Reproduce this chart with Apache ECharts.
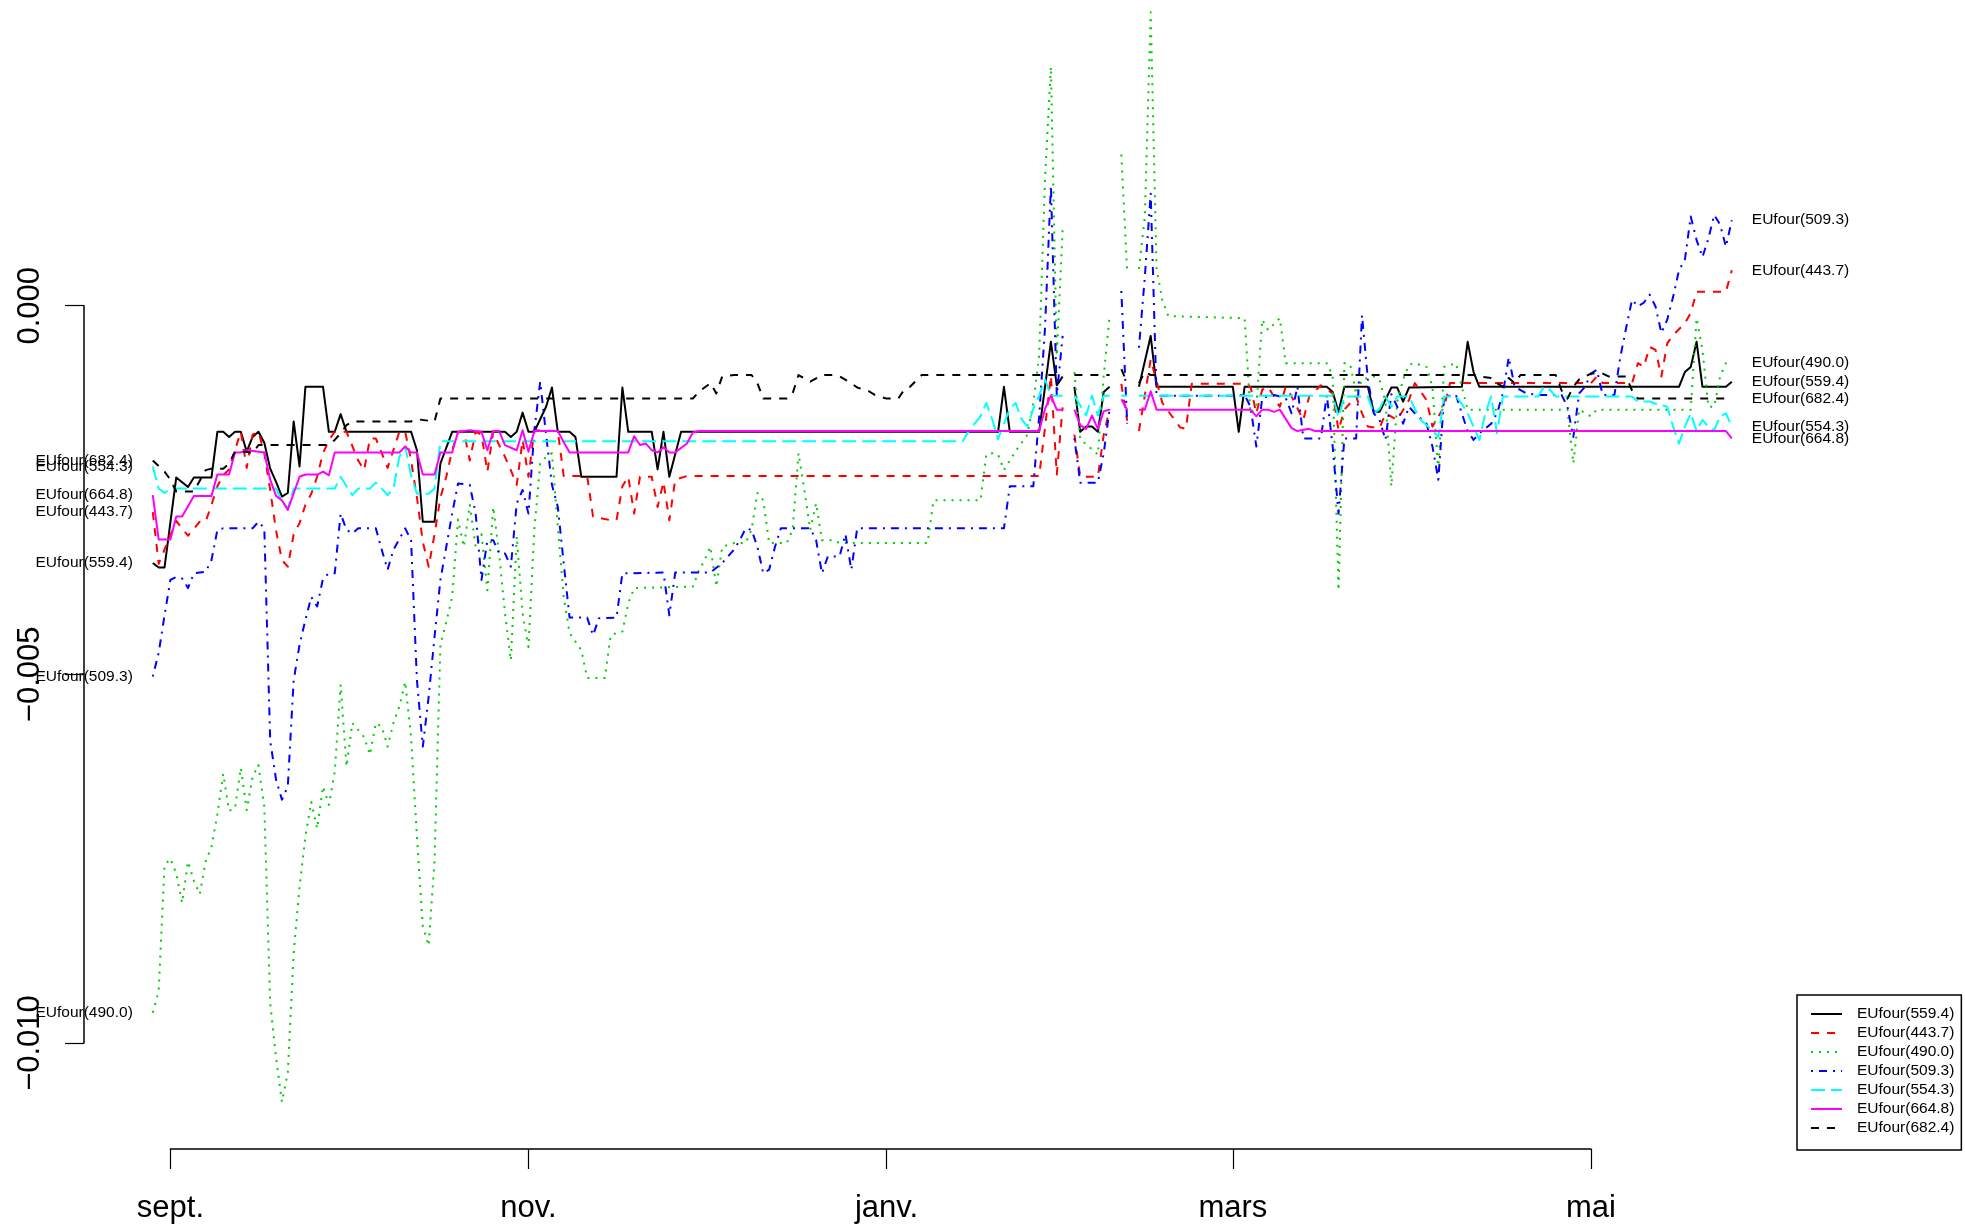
<!DOCTYPE html>
<html>
<head>
<meta charset="utf-8">
<script src="https://cdn.jsdelivr.net/npm/echarts@6/dist/echarts.min.js"></script>
<style>
  html, body { margin: 0; padding: 0; background: #ffffff; }
  #chart { width: 1965px; height: 1230px; }
</style>
</head>
<body>
<div id="chart"></div>
<script>
// Daily series, x = days counted from 1 September, y in thousandths.
// null marks a day without a value (the line is broken there).
const eu559 = [[-3,-3.49],[-2,-3.55],[-1,-3.55],[1,-2.33],[3,-2.46],[4,-2.33],[7,-2.33],[8,-1.71],[9,-1.71],[10,-1.78],[11,-1.71],[12,-1.71],[13,-1.98],[14,-1.78],[15,-1.71],[16,-1.86],[17,-2.21],[18,-2.39],[19,-2.59],[20,-2.54],[21,-1.57],[22,-2.18],[23,-1.10],[26,-1.10],[27,-1.71],[28,-1.71],[29,-1.47],[30,-1.71],[41,-1.71],[42,-1.96],[43,-2.93],[45,-2.93],[46,-2.14],[48,-1.71],[57,-1.71],[58,-1.78],[59,-1.71],[60,-1.45],[61,-1.71],[62,-1.71],[64,-1.37],[65,-1.11],[66,-1.71],[68,-1.71],[69,-1.78],[70,-2.32],[76,-2.32],[77,-1.11],[78,-1.71],[82,-1.71],[83,-2.22],[84,-1.71],[85,-2.32],[87,-1.71],[141,-1.71],[142,-1.10],[143,-1.71],[148,-1.71],[150,-0.49],[151,-1.08],[152,-0.96],[153,null],[154,-1.10],[155,-1.71],[156,-1.64],[157,-1.64],[158,-1.71],[159,-1.17],[160,-1.10],[161,null],[165,-1.10],[167,-0.41],[168,-1.10],[181,-1.10],[182,-1.71],[183,-1.10],[197,-1.10],[198,-1.17],[199,-1.44],[200,-1.10],[204,-1.10],[205,-1.44],[206,-1.44],[208,-1.11],[209,-1.11],[210,-1.30],[211,-1.11],[220,-1.10],[221,-0.49],[222,-0.90],[223,-1.10],[257,-1.10],[258,-0.90],[259,-0.83],[260,-0.49],[261,-1.10],[265,-1.10],[266,-1.03]];

const eu443 = [[-3,-2.80],[-2,-3.50],[1,-2.92],[3,-3.12],[5,-2.93],[6,-2.93],[7,-2.70],[8,-2.45],[9,-2.30],[10,-2.22],[11,-1.96],[12,-1.71],[13,-2.20],[14,-1.75],[15,-1.71],[16,-2.00],[17,-2.50],[18,-3.05],[19,-3.45],[20,-3.54],[21,-3.10],[22,-2.95],[23,-2.70],[24,-2.55],[25,-2.32],[26,-2.00],[27,-1.82],[28,-1.71],[30,-1.71],[32,-2.10],[33,-2.23],[34,-1.80],[35,-1.80],[37,-2.20],[39,-1.71],[40,-1.71],[41,-2.10],[42,-2.60],[43,-3.20],[44,-3.54],[45,-3.10],[46,-2.60],[47,-2.32],[48,-1.96],[49,-1.71],[50,-1.71],[51,-2.10],[52,-1.71],[53,-1.75],[54,-2.25],[55,-1.71],[56,-1.89],[57,-2.05],[58,-2.23],[59,-2.43],[60,-1.82],[61,-2.32],[62,-1.69],[66,-1.70],[67,-2.31],[71,-2.31],[72,-2.86],[75,-2.91],[76,-2.91],[77,-2.45],[78,-2.32],[79,-2.82],[80,-2.32],[82,-2.32],[83,-2.73],[84,-2.39],[85,-2.91],[86,-2.36],[88,-2.31],[148,-2.31],[149,-1.65],[150,-0.95],[151,-2.29],[152,-1.38],[153,null],[154,-1.75],[155,-2.32],[158,-2.32],[159,-1.75],[160,-1.40],[161,null],[162,-1.06],[163,-1.56],[164,null],[165,-1.70],[167,-0.73],[169,-1.32],[172,-1.65],[173,-1.67],[174,-1.06],[183,-1.06],[184,-1.10],[185,-1.46],[186,-1.14],[187,-1.10],[189,-1.37],[190,-1.10],[191,-1.23],[193,-1.55],[194,-1.23],[196,-1.08],[198,-1.19],[199,-1.69],[200,-1.41],[202,-1.23],[203,-1.46],[204,-1.64],[206,-1.66],[207,-1.46],[209,-1.55],[211,-1.28],[212,-1.05],[214,-1.28],[215,-1.64],[217,-1.37],[218,-1.05],[242,-1.05],[243,-0.96],[244,-1.05],[249,-1.05],[250,-0.78],[251,-0.83],[252,-0.56],[253,-0.60],[254,-0.96],[255,-0.51],[256,-0.40],[258,-0.24],[259,-0.10],[260,0.19],[265,0.19],[266,0.48]];

const eu490 = [[-3,-9.59],[-2,-9.30],[-1,-7.59],[0,-7.50],[1,-7.70],[2,-8.10],[3,-7.54],[4,-7.80],[5,-7.98],[6,-7.54],[7,-7.34],[8,-6.90],[9,-6.35],[10,-6.85],[11,-6.82],[12,-6.27],[13,-6.84],[14,-6.39],[15,-6.23],[16,-6.80],[17,-9.46],[18,-10.20],[19,-10.80],[20,-10.40],[21,-8.78],[22,-7.88],[23,-7.20],[24,-6.73],[25,-7.09],[26,-6.52],[27,-6.77],[28,-6.32],[29,-5.14],[30,-6.25],[31,-5.66],[33,-5.85],[34,-6.09],[35,-5.66],[36,-5.71],[37,-5.98],[38,-5.66],[39,-5.44],[40,-5.10],[41,-5.85],[42,-7.20],[43,-8.42],[44,-8.68],[45,-7.52],[46,-4.60],[47,-4.29],[48,-3.95],[49,-2.90],[50,-3.27],[51,-2.70],[52,-3.27],[53,-3.10],[54,-3.86],[55,-2.73],[56,-3.36],[57,-4.17],[58,-4.81],[59,-3.13],[60,-4.17],[61,-4.63],[62,-3.04],[63,-2.14],[64,-2.05],[65,-2.00],[66,-3.00],[67,-3.95],[68,-4.44],[70,-4.67],[71,-5.05],[74,-5.05],[75,-4.47],[76,-4.44],[77,-4.42],[78,-4.04],[79,-3.83],[89,-3.81],[90,-3.60],[91,-3.45],[92,-3.27],[93,-3.81],[94,-3.27],[96,-3.22],[98,-3.22],[99,-3.04],[100,-2.54],[101,-2.64],[102,-3.22],[105,-3.22],[106,-3.04],[107,-2.00],[108,-2.50],[109,-3.04],[110,-2.68],[111,-3.18],[113,-3.18],[114,-3.22],[129,-3.22],[130,-2.64],[138,-2.64],[139,-2.02],[140,-2.00],[141,-2.02],[142,-2.23],[144,-1.97],[146,-1.75],[147,-1.32],[148,-0.68],[149,1.73],[150,3.24],[151,-0.68],[152,1.04],[153,null],[154,-0.90],[155,-1.81],[158,-2.02],[159,-0.95],[160,-0.14],[161,null],[162,2.05],[163,0.45],[164,null],[165,0.50],[166,1.20],[167,3.98],[168,0.50],[169,0.07],[170,-0.14],[183,-0.17],[184,-1.46],[185,-1.37],[186,-0.19],[187,-0.33],[189,-0.17],[190,-0.78],[197,-0.78],[198,-0.95],[199,-3.86],[200,-0.78],[201,-0.80],[202,-1.20],[203,-1.00],[205,-0.96],[206,-1.01],[207,-1.30],[208,-2.45],[209,-1.30],[210,-1.00],[211,-0.80],[212,-0.78],[214,-0.83],[215,-1.10],[216,-2.23],[217,-0.83],[219,-0.78],[220,-1.10],[221,-1.41],[238,-1.41],[239,-2.14],[240,-1.41],[242,-1.50],[243,-1.41],[259,-1.41],[260,-0.17],[261,-0.60],[262,-1.37],[263,-1.37],[264,-0.96],[265,-0.78],[266,-0.77]];

const eu509 = [[-3,-5.03],[-2,-4.71],[-1,-4.20],[0,-3.72],[1,-3.68],[2,-3.70],[3,-3.83],[4,-3.63],[6,-3.61],[7,-3.45],[8,-3.04],[9,-3.02],[14,-3.02],[15,-2.93],[16,-3.02],[17,-5.90],[18,-6.43],[19,-6.70],[20,-6.52],[21,-5.08],[22,-4.60],[23,-4.26],[24,-3.95],[25,-4.08],[26,-3.70],[27,-3.63],[28,-3.63],[29,-2.82],[30,-3.04],[31,-3.09],[32,-3.02],[35,-3.02],[36,-3.31],[37,-3.58],[38,-3.31],[40,-3.02],[41,-3.18],[42,-5.08],[43,-5.98],[44,-5.30],[45,-4.49],[46,-3.72],[47,-3.27],[48,-2.82],[49,-2.41],[51,-2.43],[52,-2.82],[53,-3.72],[54,-3.18],[55,-3.18],[56,-3.36],[57,-3.36],[58,-3.54],[59,-2.68],[60,-2.50],[61,-2.82],[62,-1.69],[63,-1.03],[64,-1.75],[65,-2.43],[66,-2.73],[67,-3.49],[68,-4.23],[71,-4.23],[72,-4.47],[73,-4.24],[76,-4.23],[77,-3.63],[84,-3.62],[85,-4.20],[86,-3.62],[92,-3.62],[94,-3.49],[96,-3.31],[97,-3.18],[98,-3.02],[99,-3.04],[100,-3.27],[101,-3.63],[102,-3.58],[103,-3.27],[104,-3.02],[109,-3.02],[110,-3.18],[111,-3.63],[112,-3.40],[114,-3.40],[115,-3.10],[116,-3.58],[117,-3.02],[142,-3.02],[143,-2.45],[147,-2.45],[148,-1.50],[149,-0.30],[150,1.63],[151,-1.22],[152,-0.41],[153,null],[154,-1.80],[155,-2.40],[158,-2.40],[159,-2.00],[160,-1.40],[161,null],[162,0.20],[163,-1.60],[164,null],[165,-0.57],[166,0.39],[167,1.52],[168,-1.22],[181,-1.22],[183,-1.21],[184,-1.37],[185,-1.91],[186,-1.25],[188,-1.21],[190,-1.25],[191,-1.46],[192,-1.10],[193,-1.80],[196,-1.80],[197,-1.21],[198,-1.91],[199,-2.82],[200,-1.80],[202,-1.80],[203,-0.13],[204,-1.00],[205,-1.46],[206,-1.55],[207,-1.82],[208,-1.20],[209,-1.37],[210,-1.60],[211,-1.37],[212,-1.46],[214,-1.60],[215,-1.91],[216,-2.36],[217,-1.23],[219,-1.21],[220,-1.46],[221,-1.70],[222,-1.82],[223,-1.73],[225,-1.60],[226,-1.46],[227,-1.19],[228,-0.70],[229,-1.10],[231,-1.19],[233,-1.21],[237,-1.21],[238,-1.37],[239,-1.78],[240,-1.19],[241,-1.10],[242,-0.92],[243,-0.87],[244,-1.21],[246,-1.21],[247,-0.70],[248,-0.30],[249,0.08],[250,-0.01],[251,0.04],[252,0.15],[253,-0.01],[254,-0.37],[255,-0.19],[256,0.12],[257,0.48],[258,0.62],[259,1.21],[260,0.89],[261,0.66],[262,0.91],[263,1.23],[264,1.10],[265,0.80],[266,1.16]];

const eu554 = [[-3,-2.18],[-2,-2.48],[-1,-2.54],[0,-2.48],[18,-2.48],[19,-2.65],[20,-2.75],[21,-2.48],[28,-2.48],[29,-2.32],[30,-2.45],[31,-2.57],[32,-2.48],[34,-2.48],[35,-2.40],[36,-2.48],[37,-2.57],[38,-2.48],[39,-2.05],[40,-1.91],[41,-2.30],[42,-2.55],[44,-2.55],[45,-2.48],[46,-1.84],[135,-1.84],[136,-1.70],[138,-1.50],[139,-1.32],[140,-1.54],[141,-1.81],[142,-1.60],[143,-1.40],[144,-1.32],[145,-1.54],[146,-1.64],[147,-1.40],[148,-1.22],[149,-1.00],[150,-1.22],[152,-1.22],[153,null],[154,-1.22],[155,-1.35],[156,-1.49],[157,-1.22],[158,-1.49],[159,-1.22],[160,-1.22],[161,null],[162,-1.22],[163,-1.22],[164,null],[165,-1.22],[198,-1.22],[199,-1.51],[200,-1.23],[204,-1.23],[205,-1.46],[206,-1.40],[207,-1.23],[208,-1.37],[209,-1.23],[211,-1.23],[212,-1.40],[213,-1.55],[215,-1.69],[216,-1.78],[217,-1.23],[219,-1.23],[220,-1.33],[221,-1.46],[222,-1.64],[223,-1.82],[224,-1.46],[225,-1.23],[226,-1.73],[227,-1.23],[233,-1.23],[234,-1.10],[235,-1.14],[236,-1.23],[249,-1.23],[250,-1.30],[252,-1.30],[253,-1.33],[255,-1.37],[256,-1.64],[257,-1.87],[258,-1.64],[259,-1.46],[260,-1.70],[261,-1.55],[262,-1.64],[263,-1.69],[264,-1.50],[265,-1.46],[266,-1.64]];

const eu664 = [[-3,-2.57],[-2,-3.17],[0,-3.17],[1,-2.86],[2,-2.86],[4,-2.58],[7,-2.58],[8,-2.29],[10,-2.29],[11,-1.99],[12,-1.99],[13,-1.96],[14,-1.97],[16,-1.99],[17,-2.36],[18,-2.58],[19,-2.64],[20,-2.77],[22,-2.32],[23,-2.29],[25,-2.29],[26,-2.25],[27,-2.30],[28,-1.99],[39,-1.99],[40,-1.91],[41,-1.99],[42,-1.99],[43,-2.29],[45,-2.29],[46,-1.99],[48,-1.99],[49,-1.71],[51,-1.69],[53,-1.71],[54,-1.96],[55,-1.70],[56,-1.70],[57,-1.89],[59,-1.96],[60,-1.69],[61,-1.98],[62,-1.70],[66,-1.70],[67,-1.85],[68,-1.99],[78,-1.99],[79,-1.77],[80,-1.89],[81,-1.87],[82,-1.96],[83,-1.99],[84,-1.92],[85,-1.99],[86,-1.99],[88,-1.87],[89,-1.72],[90,-1.70],[148,-1.70],[149,-1.40],[150,-1.22],[151,-1.41],[152,-1.41],[153,null],[154,-1.41],[155,-1.62],[156,-1.67],[157,-1.49],[158,-1.67],[159,-1.43],[160,-1.41],[161,null],[162,-1.27],[163,-1.41],[164,null],[165,-1.41],[166,-1.41],[167,-1.16],[168,-1.41],[184,-1.41],[185,-1.50],[186,-1.41],[187,-1.41],[188,-1.44],[189,-1.41],[191,-1.66],[192,-1.70],[194,-1.67],[195,-1.70],[265,-1.70],[266,-1.80]];

const eu682 = [[-3,-2.10],[-1,-2.25],[0,-2.36],[1,-2.52],[4,-2.52],[6,-2.23],[7,-2.21],[9,-2.21],[10,-2.14],[11,-1.98],[13,-1.98],[14,-2.00],[15,-1.89],[27,-1.89],[28,-1.82],[29,-1.73],[30,-1.62],[31,-1.57],[41,-1.57],[42,-1.54],[45,-1.57],[46,-1.26],[89,-1.26],[90,-1.17],[92,-1.05],[93,-1.19],[94,-0.96],[96,-0.94],[99,-0.94],[100,-1.05],[101,-1.26],[105,-1.26],[106,-1.19],[107,-0.94],[109,-1.03],[111,-0.94],[113,-0.94],[114,-0.96],[116,-1.05],[117,-1.11],[119,-1.16],[120,-1.21],[122,-1.26],[124,-1.26],[125,-1.14],[126,-1.10],[128,-0.94],[152,-0.94],[153,null],[154,-0.94],[160,-0.94],[161,null],[162,-0.86],[163,-1.05],[164,null],[165,-1.05],[166,-0.90],[167,-0.94],[222,-0.94],[223,-0.96],[225,-0.98],[226,-1.05],[227,-1.10],[228,-0.98],[229,-1.05],[230,-0.94],[236,-0.94],[237,-1.15],[238,-1.26],[239,-1.10],[240,-1.00],[241,-0.96],[242,-0.92],[244,-0.92],[245,-0.96],[248,-0.96],[249,-1.15],[250,-1.26],[266,-1.26]];

const seriesNames = ['EUfour(559.4)', 'EUfour(443.7)', 'EUfour(490.0)', 'EUfour(509.3)', 'EUfour(554.3)', 'EUfour(664.8)', 'EUfour(682.4)'];
const seriesData = [eu559, eu443, eu490, eu509, eu554, eu664, eu682];

// Month marks on the time axis (days from 1 September) and their labels.
const monthTicks = [0, 61, 122, 181, 242];
const monthLabels = ['sept.', 'nov.', 'janv.', 'mars', 'mai'];

// Value axis ticks.
const yTickMin = -0.010, yTickMax = 0.000, yTickStep = 0.005;

// ---- styling ----
const colors = ['#000000', '#FF0000', '#00CD00', '#0000FF', '#00FFFF', '#FF00FF', '#000000'];
const dashes = ['solid', [8, 8], [2, 6], [2, 6, 8, 6], [14, 6], 'solid', [8, 8]];
const FONT = '"Liberation Sans", Arial, Helvetica, sans-serif';

// ---- layout: pixel position of day 0 / value 0 and the scale of each ----
const X0 = 170.4, DAY_PX = 5.87;
const Y0 = 305.7, MILLI_PX = 73.73;
const plotDayMin = -14, plotDayMax = 277;
const plotMilliMin = -11.2, plotMilliMax = 4.1;

const toValues = arr => arr.map(([d, v]) => [d, v === null ? null : v / 1000]);

const chart = echarts.init(document.getElementById('chart'), null, { renderer: 'canvas' });

const series = seriesData.map((arr, i) => {
  const data = toValues(arr);
  const first = data[0];
  return {
    type: 'line',
    name: seriesNames[i],
    xAxisIndex: 0,
    yAxisIndex: 0,
    data: data,
    symbol: 'none',
    connectNulls: false,
    animation: false,
    clip: false,
    lineStyle: { color: colors[i], width: 2, type: dashes[i], cap: 'butt', join: 'round' },
    itemStyle: { color: colors[i] },
    emphasis: { disabled: true },
    endLabel: {
      show: true,
      formatter: seriesNames[i],
      color: '#000',
      fontFamily: FONT,
      fontSize: 15.5,
      distance: 20
    },
    markPoint: {
      symbol: 'circle',
      symbolSize: 0,
      silent: true,
      animation: false,
      label: {
        show: true,
        position: 'left',
        distance: 20,
        formatter: seriesNames[i],
        color: '#000',
        fontFamily: FONT,
        fontSize: 15.5
      },
      data: [{ coord: first }]
    }
  };
});

const option = {
  backgroundColor: '#ffffff',
  animation: false,
  textStyle: { fontFamily: FONT },
  grid: [
    { // plotting region
      left: X0 + plotDayMin * DAY_PX,
      width: (plotDayMax - plotDayMin) * DAY_PX,
      top: Y0 - plotMilliMax * MILLI_PX,
      height: (plotMilliMax - plotMilliMin) * MILLI_PX,
      containLabel: false,
      outerBoundsMode: 'none'
    },
    { // value axis, drawn only over its tick range
      left: 84, width: 10,
      top: Y0 + (-yTickMax * 1000) * MILLI_PX,
      height: (yTickMax - yTickMin) * 1000 * MILLI_PX,
      containLabel: false,
      outerBoundsMode: 'none'
    },
    { // time axis, drawn only over its tick range
      left: X0 + monthTicks[0] * DAY_PX,
      width: (monthTicks[monthTicks.length - 1] - monthTicks[0]) * DAY_PX,
      top: 1148, height: 1,
      containLabel: false,
      outerBoundsMode: 'none'
    }
  ],
  xAxis: [
    { type: 'value', gridIndex: 0, min: plotDayMin, max: plotDayMax, show: false },
    { type: 'value', gridIndex: 1, min: 0, max: 1, show: false },
    {
      type: 'value', gridIndex: 2, position: 'bottom',
      min: monthTicks[0], max: monthTicks[monthTicks.length - 1],
      axisLine: { show: true, lineStyle: { color: '#000', width: 1.5 } },
      axisTick: { show: true, length: 20, lineStyle: { color: '#000', width: 1.2 }, customValues: monthTicks },
      axisLabel: {
        show: true, customValues: monthTicks,
        formatter: v => monthLabels[monthTicks.indexOf(v)],
        color: '#000', fontFamily: FONT, fontSize: 31, margin: 44
      },
      splitLine: { show: false }
    }
  ],
  yAxis: [
    { type: 'value', gridIndex: 0, min: plotMilliMin / 1000, max: plotMilliMax / 1000, show: false },
    {
      type: 'value', gridIndex: 1, position: 'left',
      min: yTickMin, max: yTickMax, interval: yTickStep,
      axisLine: { show: true, lineStyle: { color: '#000', width: 1.5 } },
      axisTick: { show: true, length: 19, lineStyle: { color: '#000', width: 1.2 } },
      axisLabel: {
        show: true, rotate: 90, margin: 38,
        formatter: v => (v < 0 ? '\u2212' : '') + Math.abs(v).toFixed(3),
        color: '#000', fontFamily: FONT, fontSize: 31
      },
      splitLine: { show: false }
    },
    { type: 'value', gridIndex: 2, min: 0, max: 1, show: false }
  ],
  legend: {
    show: true,
    data: seriesNames,
    orient: 'vertical',
    left: 1797,
    top: 995,
    padding: [11, 7, 14, 13],
    itemWidth: 31,
    itemHeight: 14,
    itemGap: 3,
    borderColor: '#000',
    borderWidth: 1.5,
    borderRadius: 0,
    selectedMode: false,
    itemStyle: { opacity: 0 },
    textStyle: { color: '#000', fontFamily: FONT, fontSize: 15.5, padding: [0, 0, 0, 10] }
  },
  series: series
};

chart.setOption(option);
</script>
</body>
</html>
